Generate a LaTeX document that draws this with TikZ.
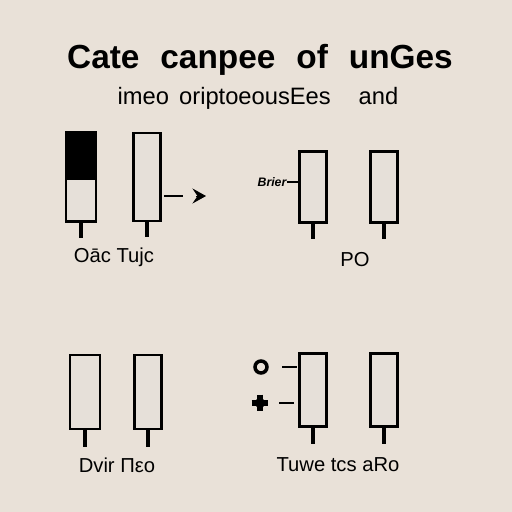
\documentclass[tikz,border=0pt]{standalone}
\usepackage{fontspec}
\setmainfont{Liberation Sans}
\usetikzlibrary{arrows.meta, positioning}

\definecolor{paper}{HTML}{E9E1D8}
\definecolor{barfill}{HTML}{E6E0D9}

\begin{document}
\begin{tikzpicture}[
    x=0.02cm, y=-0.02cm,
    bar/.style={rectangle, draw, line width=1.6pt, fill=barfill, minimum width=0.54cm, inner sep=0pt},
    stem/.style={line width=1.9pt},
    tick/.style={line width=1.1pt},
    caption/.style={font=\fontsize{11.5}{13}\selectfont},
]

\useasboundingbox[fill=paper] (0,0) rectangle (512,512);

% heading
\node[font=\fontsize{19}{22}\selectfont\bfseries] (title) at (260,60) {Cate\hspace{0.35em} canpee\hspace{0.35em} of\hspace{0.35em} unGes};
\node[font=\fontsize{13.5}{16}\selectfont] (subtitle) at (258,98) {imeo\hspace{0.15em} oriptoeousEes\hspace{0.9em} and};

% top left
\node[bar, minimum width=0.6cm, minimum height=1.78cm] (oa) at (81,177) {};
\fill (oa.north west) rectangle (oa.east |- 0,180);
\draw[stem] (oa.south) -- ++(0,15);
\node[bar, minimum height=1.76cm] (ob) at (147,177) {};
\draw[stem] (ob.south) -- ++(0,15);
\coordinate (tip) at (206,196);
\draw[tick] (ob.east |- tip) ++(2,0) -- (183,196);
\draw[line width=0.5pt, -{Stealth[length=0.27cm, width=0.3cm, inset=0.1cm]}] (196,196) -- (tip);
\node[caption] (cap1) at (114,257) {Oāc Tujc};

% top right
\node[bar, minimum height=1.42cm] (oc) at (313,187) {};
\draw[stem] (oc.south) -- ++(0,15);
\node[bar, minimum height=1.42cm] (od) at (384,187) {};
\draw[stem] (od.south) -- ++(0,15);
\node[font=\fontsize{7}{8}\selectfont\itshape\bfseries, inner sep=0pt] (brier) at (272,182) {Brier};
\draw[line width=0.8pt] (brier.east) -- (oc.west |- brier.east);
\node[caption] (cap2) at (355,260) {PO};

% bottom left
\node[bar, minimum width=0.6cm, minimum height=1.48cm] (oe) at (85,392) {};
\draw[stem] (oe.south) -- ++(0,17);
\node[bar, minimum height=1.48cm] (of) at (148,392) {};
\draw[stem] (of.south) -- ++(0,17);
\node[caption] (cap3) at (117,465) {Dvir Πεο};

% bottom right
\node[circle, draw, line width=2pt, minimum size=0.24cm, inner sep=0pt] (ring) at (261,367) {};
\draw[tick] (ring.east) ++(0.27cm,0) -- ++(0.3cm,0);
\node[minimum size=0.32cm, inner sep=0pt] (cross) at (260,403) {};
\draw[line width=3pt] (cross.west) -- (cross.east) (cross.north) -- (cross.south);
\fill (cross) circle (0.1cm);
\draw[tick] (cross.east) ++(0.22cm,0) -- ++(0.3cm,0);
\node[bar, minimum height=1.46cm] (og) at (313,390) {};
\draw[stem] (og.south) -- ++(0,16);
\node[bar, minimum height=1.46cm] (oh) at (384,390) {};
\draw[stem] (oh.south) -- ++(0,16);
\node[caption] (cap4) at (338,465) {Tuwe tcs aRo};

\end{tikzpicture}
\end{document}
